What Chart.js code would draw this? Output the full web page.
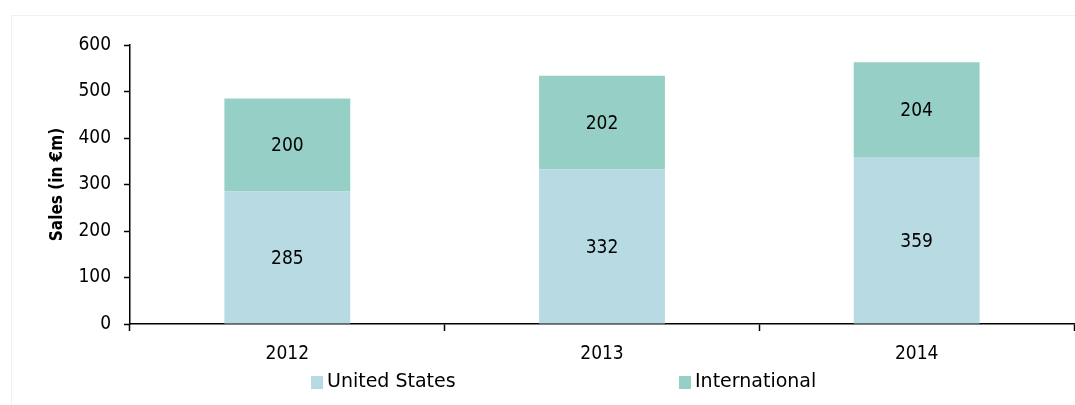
<!DOCTYPE html>
<html>
<head>
<meta charset="utf-8">
<script src="https://cdn.jsdelivr.net/npm/chart.js@4/dist/chart.umd.min.js"></script>
<style>
  html, body { margin: 0; padding: 0; background: #fff; }
  #wrap { position: relative; width: 1075px; height: 405px; }
  #frame { position: absolute; left: 11px; top: 15px; width: 1080px; height: 400px;
           border-left: 1px solid #f0f0f0; border-top: 1px solid #f0f0f0; }
  canvas { position: absolute; left: 0; top: 0; }
</style>
</head>
<body>
<div id="wrap">
  <div id="frame"></div>
  <canvas id="sales-chart" width="1075" height="405"></canvas>
</div>
<script>
// chart data
const years = ['2012', '2013', '2014'];
const unitedStates = [285, 332, 359];
const international = [200, 202, 204];
const yTicks = [0, 100, 200, 300, 400, 500, 600];

const FONT = "'DejaVu Sans Condensed', 'DejaVu Sans', sans-serif";
const WIDE = "'DejaVu Sans', sans-serif";

// numbers in the middle of every segment
const segmentLabels = {
    id: 'segmentLabels',
    afterDatasetsDraw: function (chart) {
        const ctx = chart.ctx;
        ctx.save();
        ctx.fillStyle = '#000';
        ctx.font = '19px ' + FONT;
        ctx.textAlign = 'center';
        ctx.textBaseline = 'middle';
        chart.data.datasets.forEach(function (ds, i) {
            chart.getDatasetMeta(i).data.forEach(function (bar, j) {
                const mid = (bar.y + bar.base) / 2;
                ctx.fillText(ds.data[j], bar.x, mid + 1.5);
            });
        });
        ctx.restore();
    }
};

// legend spread wide like the original
const wideLegend = {
    id: 'wideLegend',
    afterDraw: function (chart) {
        const ctx = chart.ctx;
        const starts = [311, 679];
        ctx.save();
        ctx.font = '19px ' + WIDE;
        ctx.textBaseline = 'middle';
        chart.data.datasets.forEach(function (ds, i) {
            const x = starts[i];
            const y = 382;
            ctx.fillStyle = ds.backgroundColor;
            ctx.fillRect(x, y - 6, 12, 13);
            ctx.fillStyle = '#000';
            ctx.fillText(ds.label, x + 16, y);
        });
        ctx.restore();
    }
};

const ctx = document.getElementById('sales-chart');

new Chart(ctx, {
    type: 'bar',
    data: {
        labels: years,
        datasets: [
            { label: 'United States', data: unitedStates, backgroundColor: '#b8dbe3' },
            { label: 'International', data: international, backgroundColor: '#95cfc5' }
        ]
    },
    options: {
        responsive: false,
        animation: false,
        layout: { padding: { top: 45, right: 1, left: 0, bottom: 0 } },
        datasets: { bar: { categoryPercentage: 0.4, barPercentage: 1.0 } },
        plugins: {
            legend: { display: false },
            tooltip: { enabled: false }
        },
        scales: {
            x: {
                stacked: true,
                offset: true,
                grid: {
                    offset: true,
                    drawOnChartArea: false,
                    drawTicks: true,
                    tickLength: 7,
                    tickColor: '#000',
                    tickWidth: 1.5
                },
                border: { color: '#000', width: 1.5 },
                ticks: { color: '#000', font: { family: FONT, size: 19 }, padding: 12 },
                afterFit: function (scale) { scale.height = 81; }
            },
            y: {
                stacked: true,
                min: 0,
                max: 600,
                afterBuildTicks: function (scale) {
                    scale.ticks = yTicks.map(function (v) { return { value: v }; });
                },
                grid: {
                    drawOnChartArea: false,
                    drawTicks: true,
                    tickLength: 6,
                    tickColor: '#000',
                    tickWidth: 1.5
                },
                border: { color: '#000', width: 1.5 },
                ticks: { color: '#000', font: { family: FONT, size: 19 }, padding: 13 },
                title: {
                    display: true,
                    text: 'Sales (in €m)',
                    color: '#000',
                    font: { family: FONT, size: 17, weight: 'bold' },
                    padding: { top: 47, bottom: 0 }
                },
                afterFit: function (scale) { scale.width = 130; }
            }
        }
    },
    plugins: [segmentLabels, wideLegend]
});
</script>
</body>
</html>
